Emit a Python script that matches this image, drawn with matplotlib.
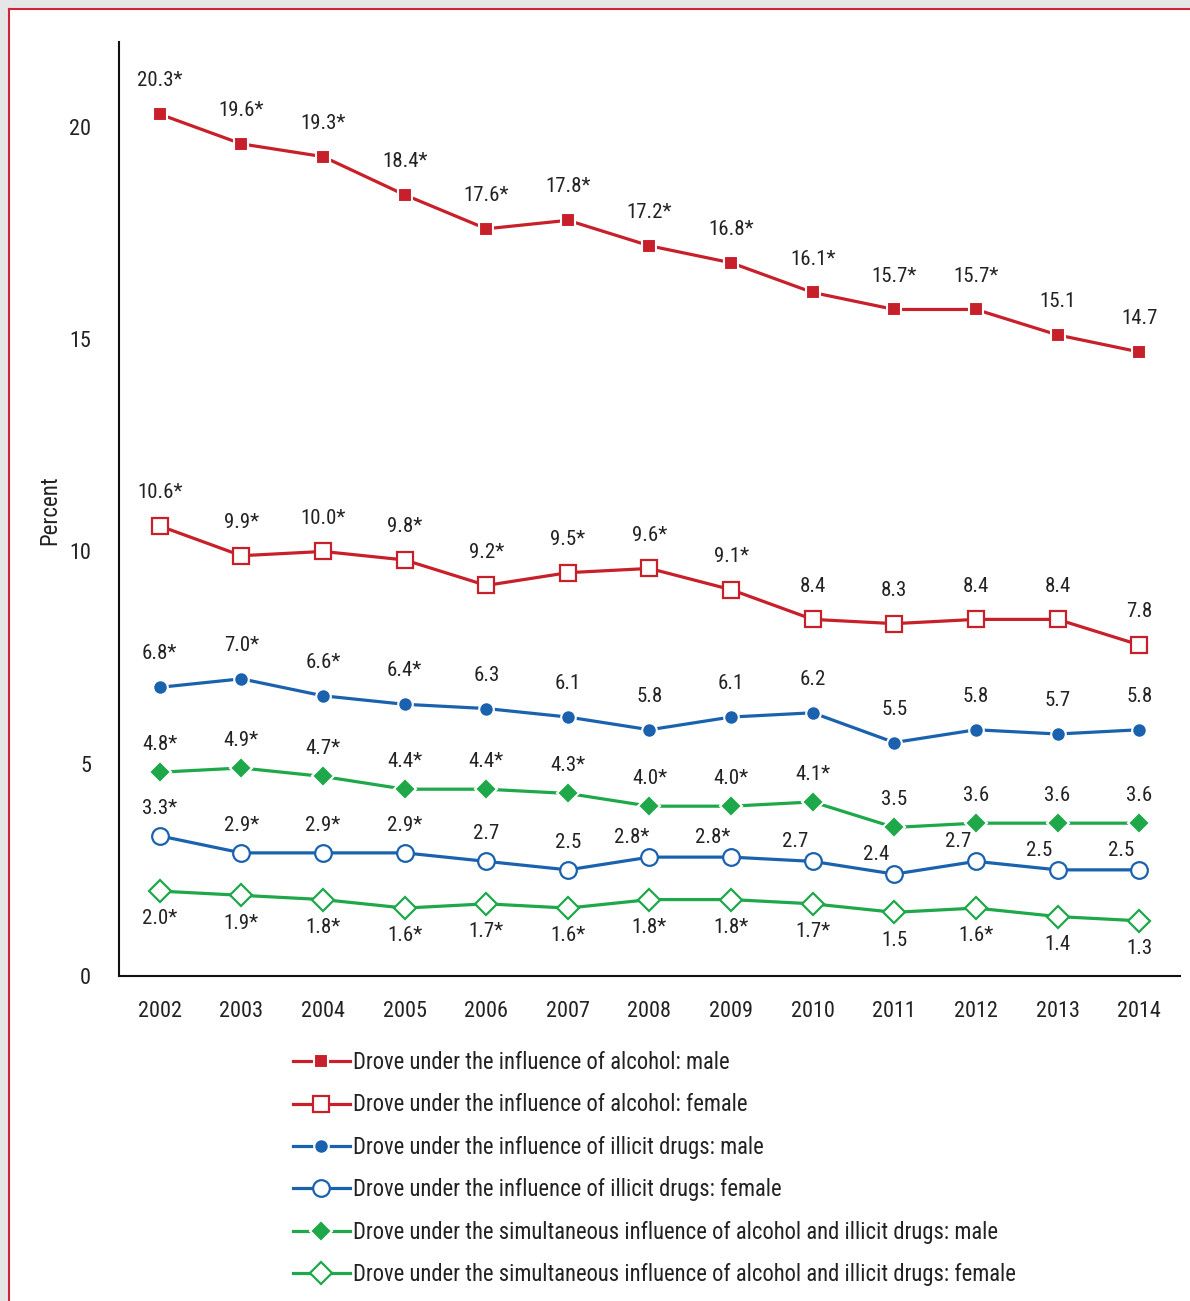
import matplotlib
matplotlib.use("Agg")
import matplotlib.pyplot as plt
from matplotlib.patches import Rectangle
from matplotlib.lines import Line2D

plt.rcParams['font.family'] = ['Roboto Condensed', 'Archivo Narrow', 'Liberation Sans', 'DejaVu Sans']

years = [2002, 2003, 2004, 2005, 2006, 2007, 2008, 2009, 2010, 2011, 2012, 2013, 2014]

alc_male = [20.3, 19.6, 19.3, 18.4, 17.6, 17.8, 17.2, 16.8, 16.1, 15.7, 15.7, 15.1, 14.7]
alc_male_sig = [1, 1, 1, 1, 1, 1, 1, 1, 1, 1, 1, 0, 0]
alc_female = [10.6, 9.9, 10.0, 9.8, 9.2, 9.5, 9.6, 9.1, 8.4, 8.3, 8.4, 8.4, 7.8]
alc_female_sig = [1, 1, 1, 1, 1, 1, 1, 1, 0, 0, 0, 0, 0]
drug_male = [6.8, 7.0, 6.6, 6.4, 6.3, 6.1, 5.8, 6.1, 6.2, 5.5, 5.8, 5.7, 5.8]
drug_male_sig = [1, 1, 1, 1, 0, 0, 0, 0, 0, 0, 0, 0, 0]
drug_female = [3.3, 2.9, 2.9, 2.9, 2.7, 2.5, 2.8, 2.8, 2.7, 2.4, 2.7, 2.5, 2.5]
drug_female_sig = [1, 1, 1, 1, 0, 0, 1, 1, 0, 0, 0, 0, 0]
both_male = [4.8, 4.9, 4.7, 4.4, 4.4, 4.3, 4.0, 4.0, 4.1, 3.5, 3.6, 3.6, 3.6]
both_male_sig = [1, 1, 1, 1, 1, 1, 1, 1, 1, 0, 0, 0, 0]
both_female = [2.0, 1.9, 1.8, 1.6, 1.7, 1.6, 1.8, 1.8, 1.7, 1.5, 1.6, 1.4, 1.3]
both_female_sig = [1, 1, 1, 1, 1, 1, 1, 1, 1, 0, 1, 0, 0]

series_names = [
    "Drove under the influence of alcohol: male",
    "Drove under the influence of alcohol: female",
    "Drove under the influence of illicit drugs: male",
    "Drove under the influence of illicit drugs: female",
    "Drove under the simultaneous influence of alcohol and illicit drugs: male",
    "Drove under the simultaneous influence of alcohol and illicit drugs: female",
]

RED = '#C8202A'
BLUE = '#1A62AE'
GREEN = '#1EA84A'

# label offsets (points)
off_up = [(0, 24)] * 13
off_up2 = [(0, 20)] * 13
off_df = [(0, 20)] * 6 + [(-13, 14)] * 7
off_down = [(0, -20)] * 13

series = [
    (alc_male, alc_male_sig, RED, 's', True, 10, off_up),
    (alc_female, alc_female_sig, RED, 's', False, 11.5, off_up),
    (drug_male, drug_male_sig, BLUE, 'o', True, 10.5, off_up),
    (drug_female, drug_female_sig, BLUE, 'o', False, 12, off_df),
    (both_male, both_male_sig, GREEN, 'D', True, 11, off_up2),
    (both_female, both_female_sig, GREEN, 'D', False, 11, off_down),
]

W, H = 1190, 1301
fig = plt.figure(figsize=(W / 100, H / 100), dpi=100)
fig.patch.set_facecolor('#E6E6E6')
fig.patches.append(Rectangle((9 / W, 0), 1 - 9 / W, 1 - 9 / H, transform=fig.transFigure,
                             facecolor='white', edgecolor='none', zorder=-5))
fig.lines.append(Line2D([9 / W, 1], [1 - 9 / H, 1 - 9 / H], transform=fig.transFigure,
                        color='#D0243A', lw=1.5, zorder=-4))
fig.lines.append(Line2D([9 / W, 9 / W], [0, 1 - 9 / H], transform=fig.transFigure,
                        color='#D0243A', lw=1.5, zorder=-4))

ax = fig.add_axes([119 / W, 1 - 976 / H, (1180 - 119) / W, (976 - 42) / H])
ax.set_facecolor('none')

handles = []
for (vals, sig, col, mk, filled, ms, offs), name in zip(series, series_names):
    if filled:
        h, = ax.plot(years, vals, color=col, lw=2.3, marker=mk, ms=ms,
                     mfc=col, mec='white', mew=1.5, label=name, zorder=3)
    else:
        h, = ax.plot(years, vals, color=col, lw=2.3, marker=mk, ms=ms,
                     mfc='white', mec=col, mew=1.6, label=name, zorder=3)
    handles.append(h)
    for x, v, s, (dx, dy) in zip(years, vals, sig, offs):
        ax.annotate(f"{v:.1f}" + ("*" if s else ""), (x, v), xytext=(dx, dy),
                    textcoords='offset points', ha='center', va='center',
                    fontsize=15, color='#222222')

ax.set_xlim(2001.5, 2014.5)
ax.set_ylim(0, 22)
ax.set_yticks([0, 5, 10, 15, 20])
ax.set_xticks(years)
ax.tick_params(axis='both', length=0, labelsize=16, colors='#222222')
ax.tick_params(axis='y', pad=20)
ax.tick_params(axis='x', pad=18)
for sp in ['top', 'right']:
    ax.spines[sp].set_visible(False)
for sp in ['left', 'bottom']:
    ax.spines[sp].set_linewidth(1.5)
    ax.spines[sp].set_color('#111111')

fig.text(50 / W, 1 - 510 / H, "Percent", rotation=90, ha='center', va='center',
         fontsize=16.5, color='#222222')

leg = fig.legend(handles=handles, loc='upper left', bbox_to_anchor=(293 / W, 1 - 1051 / H),
                 frameon=False, fontsize=16.3, handlelength=2.5, handletextpad=0.15,
                 labelspacing=0.86, borderpad=0, borderaxespad=0)
for t in leg.get_texts():
    t.set_color('#222222')

fig.savefig("out.png", dpi=100, facecolor=fig.get_facecolor())
